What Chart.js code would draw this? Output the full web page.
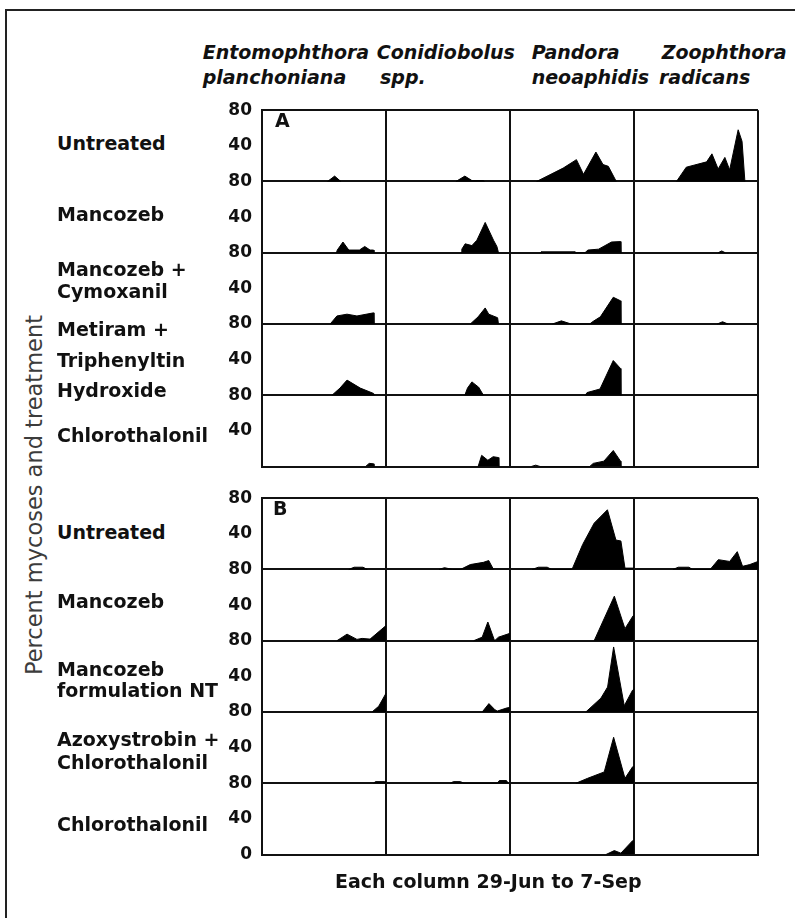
<!DOCTYPE html>
<html>
<head>
<meta charset="utf-8">
<script src="https://cdn.jsdelivr.net/npm/chart.js"></script>
<style>
  body { margin: 0; background: #fff; }
  #page { position: relative; width: 795px; height: 918px; overflow: hidden; font-family: "DejaVu Sans", sans-serif; color: #111; }
  .frame-top { position: absolute; left: 6px; top: 9px; width: 789px; height: 2px; background: #222; }
  .frame-left { position: absolute; left: 5px; top: 9px; width: 2px; height: 909px; background: #222; }
  .lbl { position: absolute; white-space: nowrap; font-weight: bold; font-size: 19px; line-height: 22px; }
  .head { font-style: italic; }
  .ytitle { position: absolute; left: -166px; top: 480px; width: 400px; height: 30px; line-height: 30px; text-align: center; font-size: 22.5px; color: #3c3c3c; transform: rotate(-90deg); white-space: nowrap; }
  canvas { position: absolute; }
</style>
</head>
<body>
<div id="page">
  <div class="frame-top"></div>
  <div class="frame-left"></div>
  <div class="ytitle">Percent mycoses and treatment</div>
  <canvas id="panelA" width="575" height="400" style="left:200px; top:90px;"></canvas>
  <canvas id="panelB" width="575" height="400" style="left:200px; top:477.5px;"></canvas>
</div>
<script>
// fungi (columns), each column runs 29-Jun to 7-Sep = 70 days
const fungi = [['Entomophthora', 'planchoniana'], ['Conidiobolus', 'spp.'], ['Pandora', 'neoaphidis'], ['Zoophthora', 'radicans']];
const seasonDays = 70;

// treatments (rows)
const treatmentsA = [['Untreated'], ['Mancozeb'], ['Mancozeb +', 'Cymoxanil'], ['Metiram +', 'Triphenyltin', 'Hydroxide'], ['Chlorothalonil']];
const treatmentsB = [['Untreated'], ['Mancozeb'], ['Mancozeb', 'formulation NT'], ['Azoxystrobin +', 'Chlorothalonil'], ['Chlorothalonil']];

// y ticks within each row
const rowMax = 80;
const rowTickStep = 40;

// percent mycoses, [day after 29-Jun, %] per fungus (E, C, P, Z)
// panel A
const aUntreated = [
  [[37, 0], [41, 6], [44.5, 0]],
  [[39.5, 0], [44.5, 6], [48.5, 1], [55, 1], [55.5, 0]],
  [[15, 0], [22, 7], [30, 15], [37.5, 24.5], [41.5, 8], [48.5, 33], [52.5, 19], [55.5, 17], [60, 0]],
  [[24, 0], [29.5, 16], [41, 22], [44, 31], [47.5, 14], [51.3, 27], [54, 13], [58.8, 58], [61, 45], [62.6, 0]]
];
const aMancozeb = [
  [[42, 0], [42.5, 3], [45.7, 12], [49, 3], [55, 3], [58, 7], [61, 3], [63, 3], [63.2, 0]],
  [[42.5, 0], [42.8, 4], [44.7, 10], [48.5, 8], [51.3, 14], [56, 34], [60.7, 14], [62.6, 7], [63.5, 0]],
  [[17, 0], [17.5, 1], [36.7, 1], [37, 0], [42.3, 0], [44, 3], [50, 4], [57.3, 12], [62.4, 12.5], [62.6, 0]],
  [[47.5, 0], [49.5, 2], [51.5, 0]]
];
const aMancozebCymoxanil = [
  [[38.5, 0], [42.3, 9], [48, 11], [53.6, 9], [63, 12.5], [63.2, 0]],
  [[47.6, 0], [52, 8], [56, 18], [58, 11], [63, 7], [63.5, 0]],
  [[24, 0], [29, 3.5], [34.5, 0], [45, 0], [47, 3], [51, 8], [58.3, 30], [62.4, 26], [62.6, 0]],
  [[47, 0], [50, 2.5], [53, 0]]
];
const aMetiramTPTH = [
  [[39.5, 0], [44, 8], [48, 17], [55.5, 8], [63, 2], [63.5, 0]],
  [[44.5, 0], [46, 8], [48.5, 15], [52.3, 9], [55, 0]],
  [[42.5, 0], [43.5, 3], [50.8, 7], [58.3, 39], [62.4, 30], [62.6, 0]],
  []
];
const aChlorothalonil = [
  [[58.5, 0], [60.5, 3.5], [63, 3], [63.2, 0]],
  [[52, 0], [54, 12.5], [57.5, 7], [60.5, 11], [63.5, 10], [63.7, 0]],
  [[12, 0], [14.5, 1.5], [17, 0], [45, 0], [47, 3.5], [53, 6], [58.3, 18], [62.4, 6], [62.6, 0]],
  []
];

// panel B
const bUntreated = [
  [[49, 0], [52, 2.5], [57, 2.5], [59.5, 0]],
  [[30, 0], [33, 2], [37.5, 0], [42, 0], [47.6, 5.5], [55, 8], [58, 10], [60.7, 0]],
  [[12.5, 0], [16, 2.5], [21, 2.5], [23.5, 0], [35, 0], [41, 28], [47.5, 52], [55, 67], [59.8, 33], [62.6, 32], [64.9, 1.5], [70, 1.5]],
  [[22, 0], [25, 2.5], [31, 2.5], [33, 0], [43, 0], [47.6, 11], [54, 9], [58.3, 20], [61.3, 3.5], [65.4, 5.5], [70, 9]]
];
const bMancozeb = [
  [[42.3, 0], [48, 7.4], [53.6, 1.5], [56.5, 2.6], [61, 1.8], [70, 17]],
  [[49.5, 0], [54.3, 4], [57.5, 21], [61.3, 0], [63.5, 4], [69.5, 8], [70, 8]],
  [[47.5, 0], [58.9, 50], [64.9, 13.5], [69.5, 28], [70, 28]],
  []
];
const bMancozebNT = [
  [[62.1, 0], [65.9, 6.5], [70, 21]],
  [[54.3, 0], [58.1, 9.4], [61.5, 2.5], [62.8, 1], [68.5, 4.7], [70, 5]],
  [[42.8, 0], [51.3, 15.5], [55.1, 28], [58.5, 73], [64.5, 7], [69.2, 24.5], [70, 26]],
  []
];
const bAzoxyChloro = [
  [[63, 0], [64, 1.8], [69, 1.8], [70, 2]],
  [[36.4, 0], [38, 1.8], [42, 1.8], [44, 0], [62.8, 0], [64, 3], [68, 3], [69, 0]],
  [[37.2, 0], [43.8, 5.5], [53.2, 12.7], [58.5, 51.6], [64.9, 5.5], [69.2, 18.4], [70, 19]],
  []
];
const bChlorothalonil = [
  [],
  [],
  [[54.2, 0], [58.9, 4.4], [62.6, 1.5], [69.2, 15.5], [70, 16]],
  []
];

const rowsA = [aUntreated, aMancozeb, aMancozebCymoxanil, aMetiramTPTH, aChlorothalonil];
const rowsB = [bUntreated, bMancozeb, bMancozebNT, bAzoxyChloro, bChlorothalonil];

// layout of html labels (cap-centre y of each line)
const labelTopsA = [[143], [214], [269, 290.5], [329, 359.5, 390], [435]];
const labelTopsB = [[531.7], [600.7], [669, 690], [738.3, 761.7], [823.3]];
const headX = [[202.7, 202.7], [376.7, 380], [531.7, 531.7], [661.7, 659]];

const page = document.getElementById('page');
function addLabel(text, left, capCentre, extra) {
  const d = document.createElement('div');
  d.className = 'lbl' + (extra ? ' ' + extra : '');
  d.textContent = text;
  d.style.left = left + 'px';
  d.style.top = (capCentre - 10.7) + 'px';
  page.appendChild(d);
}

fungi.forEach((name, c) => {
  addLabel(name[0], headX[c][0], 51.4, 'head');
  addLabel(name[1], headX[c][1], 76.4, 'head');
});
treatmentsA.forEach((lines, r) => lines.forEach((t, i) => addLabel(t, 57, labelTopsA[r][i])));
treatmentsB.forEach((lines, r) => lines.forEach((t, i) => addLabel(t, 57, labelTopsB[r][i])));
addLabel('A', 275, 120);
addLabel('B', 273, 507.5);
addLabel('Each column 29-Jun to 7-Sep', 335, 880.5);

function buildDatasets(rows) {
  const sets = [];
  rows.forEach((row, r) => {
    const base = (rows.length - 1 - r) * rowMax;
    row.forEach((series, c) => {
      sets.push({
        label: fungi[c].join(' '),
        data: series.map(([d, v]) => ({ x: c * seasonDays + d, y: base + v })),
        borderColor: '#000',
        backgroundColor: '#000',
        borderWidth: 1,
        pointRadius: 0,
        tension: 0,
        fill: { value: base }
      });
    });
  });
  return sets;
}

const frameColor = '#111';

function makePanel(id, rows, showZero) {
  const nRows = rows.length;
  return new Chart(document.getElementById(id), {
    type: 'line',
    data: { datasets: buildDatasets(rows) },
    options: {
      responsive: false,
      animation: false,
      devicePixelRatio: 1,
      layout: { padding: { top: 13.5, right: 17, bottom: 23.5, left: 0 } },
      plugins: { legend: { display: false }, tooltip: { enabled: false } },
      scales: {
        x: {
          type: 'linear',
          min: 0,
          max: fungi.length * seasonDays,
          afterFit: s => { s.height = 0; },
          ticks: { display: false, stepSize: seasonDays },
          grid: { color: frameColor, lineWidth: 2, drawTicks: false },
          border: { color: frameColor, width: 2 }
        },
        y: {
          type: 'linear',
          min: 0,
          max: nRows * rowMax,
          afterFit: s => { s.width = 62; },
          ticks: {
            stepSize: rowTickStep,
            autoSkip: false,
            padding: 10,
            labelOffset: 0,
            color: '#111',
            font: { family: 'DejaVu Sans', weight: 'bold', size: 17 },
            callback: v => {
              if (v === 0) return showZero ? '0' : '';
              return String(v % rowMax === 0 ? rowMax : v % rowMax);
            }
          },
          grid: {
            color: c => (c.tick && c.tick.value % rowMax === 0) ? frameColor : 'rgba(0,0,0,0)',
            lineWidth: 2,
            drawTicks: false
          },
          border: { color: frameColor, width: 2 }
        }
      }
    }
  });
}

makePanel('panelA', rowsA, false);
makePanel('panelB', rowsB, true);
</script>
</body>
</html>
